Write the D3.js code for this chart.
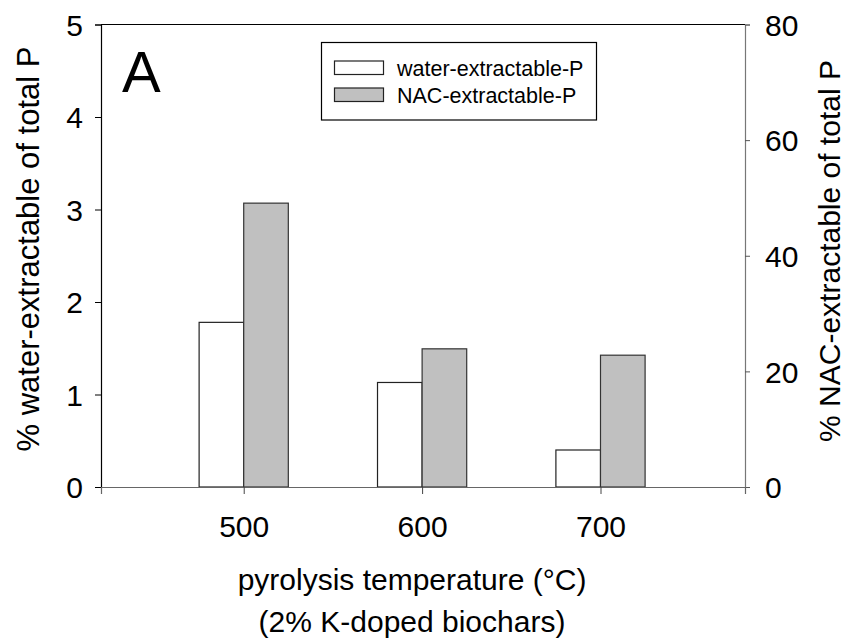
<!DOCTYPE html>
<html>
<head>
<meta charset="utf-8">
<script src="https://cdn.jsdelivr.net/npm/d3@7"></script>
<style>
  body { margin: 0; background: #fff; }
  svg text { font-family: "Liberation Sans", Arial, sans-serif; fill: #000; }
</style>
</head>
<body>
<svg id="chart" width="845" height="643"></svg>
<script>
// data
let temperatures = [500, 600, 700];
let waterP = [1.78, 1.13, 0.40];      // % water-extractable (left axis)
let nacP = [49.1, 23.9, 22.8];        // % NAC-extractable (right axis)
let leftTicks = [0, 1, 2, 3, 4, 5];
let rightTicks = [0, 20, 40, 60, 80];
let seriesNames = ["water-extractable-P", "NAC-extractable-P"];

let svg = d3.select("#chart");

// plot box
let plotLeft = 101, plotRight = 745, plotTop = 24.5, plotBottom = 487;

let x = d3.scaleLinear().domain([420, 781]).range([plotLeft, plotRight]);
let yL = d3.scaleLinear().domain([0, 5]).range([plotBottom, plotTop]);
let yR = d3.scaleLinear().domain([0, 80]).range([plotBottom, plotTop]);
let barW = 25; // in temperature units

// bars
let g = svg.append("g");
g.selectAll(".water")
    .data(temperatures)
    .enter().append("rect")
    .attr("class", "water")
    .attr("x", (d) => x(d - barW))
    .attr("y", (d, i) => yL(waterP[i]))
    .attr("width", (d) => x(d) - x(d - barW))
    .attr("height", (d, i) => yL(0) - yL(waterP[i]))
    .attr("fill", "#fff")
    .attr("stroke", "#222")
    .attr("stroke-width", 1.2);

g.selectAll(".nac")
    .data(temperatures)
    .enter().append("rect")
    .attr("class", "nac")
    .attr("x", (d) => x(d))
    .attr("y", (d, i) => yR(nacP[i]))
    .attr("width", (d) => x(d + barW) - x(d))
    .attr("height", (d, i) => yR(0) - yR(nacP[i]))
    .attr("fill", "#c0c0c0")
    .attr("stroke", "#333")
    .attr("stroke-width", 1.2);

// frame top line
svg.append("line")
    .attr("x1", plotLeft).attr("x2", plotRight)
    .attr("y1", plotTop).attr("y2", plotTop)
    .attr("stroke", "#000").attr("stroke-width", 1.2);

// left axis
let axL = svg.append("g")
    .attr("transform", `translate(${plotLeft},0)`)
    .call(d3.axisLeft(yL).tickValues(leftTicks).tickSize(6).tickPadding(12).tickFormat(d3.format("d")));
axL.select(".domain").attr("stroke", "#000").attr("stroke-width", 1.2);
axL.selectAll(".tick line").attr("stroke", "#000");
axL.selectAll("text").style("font-size", "30px").attr("dy", "0.36em");

// right axis
let axR = svg.append("g")
    .attr("transform", `translate(${plotRight},0)`)
    .call(d3.axisRight(yR).tickValues(rightTicks).tickSize(5).tickPadding(15).tickFormat(d3.format("d")));
axR.select(".domain").attr("stroke", "#777").attr("stroke-width", 1.2);
axR.selectAll(".tick line").attr("stroke", "#555");
axR.selectAll("text").style("font-size", "30px").attr("dy", "0.36em");

// bottom axis
let axB = svg.append("g")
    .attr("transform", `translate(0,${plotBottom})`)
    .call(d3.axisBottom(x).tickValues(temperatures).tickSize(7).tickPadding(22).tickFormat(d3.format("d")));
axB.select(".domain").attr("stroke", "#666").attr("stroke-width", 1.2);
axB.selectAll(".tick line").attr("stroke", "#444");
axB.selectAll("text").style("font-size", "30px");

// axis titles
svg.append("text")
    .attr("transform", "translate(39,249) rotate(-90)")
    .attr("text-anchor", "middle")
    .style("font-size", "31px")
    .text("% water-extractable of total P");

svg.append("text")
    .attr("transform", "translate(840,251) rotate(-90)")
    .attr("text-anchor", "middle")
    .style("font-size", "30px")
    .text("% NAC-extractable of total P");

svg.append("text")
    .attr("x", 412).attr("y", 590)
    .attr("text-anchor", "middle")
    .style("font-size", "30px")
    .text("pyrolysis temperature (°C)");

svg.append("text")
    .attr("x", 412).attr("y", 632)
    .attr("text-anchor", "middle")
    .style("font-size", "30px")
    .text("(2% K-doped biochars)");

// panel label
svg.append("text")
    .attr("x", 122).attr("y", 92)
    .style("font-size", "58px")
    .text("A");

// legend
let legend = svg.append("g");
legend.append("rect")
    .attr("x", 321.5).attr("y", 42.5)
    .attr("width", 275).attr("height", 77.5)
    .attr("fill", "#fff").attr("stroke", "#000").attr("stroke-width", 1.2);

let fills = ["#fff", "#c0c0c0"];
seriesNames.forEach(function (name, i) {
    let yy = 61 + i * 27;
    legend.append("rect")
        .attr("x", 334.5).attr("y", yy)
        .attr("width", 49).attr("height", 13.5)
        .attr("fill", fills[i]).attr("stroke", "#222").attr("stroke-width", 1.2);
    legend.append("text")
        .attr("x", 397).attr("y", yy + 14.5)
        .style("font-size", "21.5px")
        .text(name);
});
</script>
</body>
</html>
